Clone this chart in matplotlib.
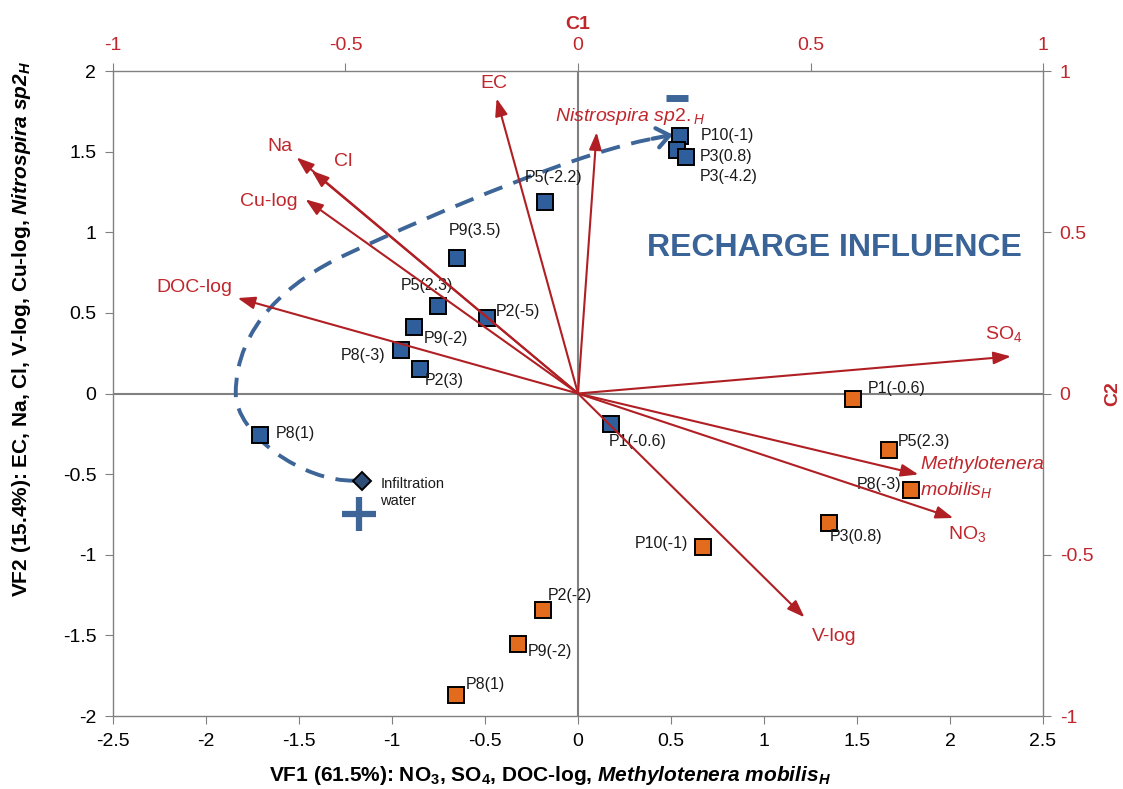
import numpy as np
import matplotlib
matplotlib.use("Agg")
import matplotlib.pyplot as plt
from matplotlib.path import Path
from matplotlib.patches import PathPatch

plt.rcParams["font.family"] = ["Liberation Sans", "DejaVu Sans"]
plt.rcParams["mathtext.fontset"] = "custom"
plt.rcParams["mathtext.rm"] = "Liberation Sans"
plt.rcParams["mathtext.it"] = "Liberation Sans:italic"
plt.rcParams["mathtext.bf"] = "Liberation Sans:bold"
plt.rcParams["mathtext.bfit"] = "Liberation Sans:italic:bold"

# sample scores (VF1, VF2)
blue_names = ["P5(-2.2)", "P9(3.5)", "P10(-1)", "P3(0.8)", "P3(-4.2)", "P5(2.3)",
              "P2(-5)", "P9(-2)", "P8(-3)", "P2(3)", "P8(1)", "P1(-0.6)"]
blue_vf1 = [-0.18, -0.65, 0.55, 0.53, 0.58, -0.75, -0.49, -0.88, -0.95, -0.85, -1.71, 0.18]
blue_vf2 = [1.19, 0.84, 1.60, 1.51, 1.465, 0.54, 0.47, 0.41, 0.27, 0.155, -0.26, -0.19]

orange_names = ["P1(-0.6)", "P5(2.3)", "P8(-3)", "P3(0.8)", "P10(-1)", "P2(-2)", "P9(-2)", "P8(1)"]
orange_vf1 = [1.48, 1.67, 1.79, 1.35, 0.67, -0.19, -0.32, -0.655]
orange_vf2 = [-0.035, -0.35, -0.60, -0.80, -0.95, -1.345, -1.555, -1.87]

infil_vf1, infil_vf2 = -1.16, -0.54

# variable loadings (C1, C2)
var_names = ["EC", "Na", "Cl", "Cu-log", "DOC-log", "$\\mathit{Nistrospira\\ sp2.}_{\\mathit{H}}$",
             "SO$_4$", "NO$_3$", "$\\mathit{Methylotenera}$\n$\\mathit{mobilis}_{\\mathit{H}}$", "V-log"]
var_c1 = [-0.175, -0.605, -0.573, -0.586, -0.732, 0.040, 0.931, 0.807, 0.732, 0.487]
var_c2 = [0.915, 0.732, 0.691, 0.602, 0.296, 0.810, 0.115, -0.386, -0.251, -0.694]

# label placement (VF coords) for the variable names
var_label_pos = [(-0.45, 1.92, "center"), (-1.60, 1.53, "center"), (-1.26, 1.44, "center"),
                 (-1.66, 1.19, "center"), (-2.06, 0.66, "center"), (0.28, 1.72, "center"),
                 (2.29, 0.37, "center"), (2.09, -0.87, "center"), (1.84, -0.52, "left"),
                 (1.38, -1.505, "center")]

# label offsets in pixels for the sample points
blue_offsets = [(9, 24, "center"), (18, 28, "center"), (20, 0, "left"), (23, -6, "left"),
                (14, -19, "left"), (-12, 21, "center"), (9, 6, "left"), (9, -11, "left"),
                (-16, -6, "right"), (5, -12, "left"), (16, 2, "left"), (-3, -17, "left")]
orange_offsets = [(14, 11, "left"), (9, 8, "left"), (-10, 6, "right"), (1, -14, "left"),
                  (-15, 3, "right"), (5, 15, "left"), (9, -7, "left"), (10, 11, "left")]

BLUE = "#2F5E9C"
ORANGE = "#E36B1E"
DKRED = "#B01F24"
RED = "#C0272D"
CURVE = "#3D6597"
GREY = "#808080"

fig = plt.figure(figsize=(11.23, 7.89), dpi=100)
pos = [0.1006, 0.0925, 0.8282, 0.8175]
ax = fig.add_axes(pos)
ax.set_xlim(-2.5, 2.5)
ax.set_ylim(-2, 2)
ax.set_xticks(np.arange(-2.5, 2.51, 0.5))
ax.set_yticks(np.arange(-2, 2.01, 0.5))
ax.set_xticklabels(["-2.5", "-2", "-1.5", "-1", "-0.5", "0", "0.5", "1", "1.5", "2", "2.5"])
ax.set_yticklabels(["-2", "-1.5", "-1", "-0.5", "0", "0.5", "1", "1.5", "2"])
for s in ax.spines.values():
    s.set_color(GREY)
    s.set_linewidth(1)
ax.tick_params(direction="out", length=6, color=GREY, labelsize=14, pad=6)
ax.axhline(0, color=GREY, lw=1.5, zorder=1)
ax.axvline(0, color=GREY, lw=1.5, zorder=1)

ax.set_xlabel("VF1 (61.5%): NO$_\\mathbf{3}$, SO$_\\mathbf{4}$, DOC-log, "
              "$\\mathbfit{Methylotenera\\ mobilis}_{\\mathbfit{H}}$",
              fontsize=15, fontweight="bold", va="center")
ax.xaxis.set_label_coords(0.47, -0.092)
ax.set_ylabel("VF2 (15.4%): EC, Na, Cl, V-log, Cu-log, "
              "$\\mathbfit{Nitrospira\\ sp2}_{\\mathbfit{H}}$",
              fontsize=15, fontweight="bold", va="center")
ax.yaxis.set_label_coords(-0.098, 0.60)

# loading axes (C1 top, C2 right)
ax2 = fig.add_axes(pos, frameon=False)
ax2.set_xlim(-1, 1)
ax2.set_ylim(-1, 1)
ax2.xaxis.tick_top()
ax2.yaxis.tick_right()
ax2.set_xticks([-1, -0.5, 0, 0.5, 1])
ax2.set_yticks([-1, -0.5, 0, 0.5, 1])
ax2.set_xticklabels(["-1", "-0.5", "0", "0.5", "1"])
ax2.set_yticklabels(["-1", "-0.5", "0", "0.5", "1"])
ax2.tick_params(direction="out", length=6, color=GREY, labelsize=14, labelcolor=RED, pad=6)
ax2.xaxis.set_label_position("top")
ax2.yaxis.set_label_position("right")
ax2.set_xlabel("C1", color=RED, fontsize=14, fontweight="bold", labelpad=6)
ax2.set_ylabel("C2", color=RED, fontsize=14, fontweight="bold", labelpad=8)

# loading arrows
for c1, c2 in zip(var_c1, var_c2):
    ax2.annotate("", xy=(c1, c2), xytext=(0, 0),
                 arrowprops=dict(arrowstyle="-|>,head_length=0.75,head_width=0.27",
                                 color=DKRED, lw=1.5, shrinkA=0, shrinkB=0,
                                 mutation_scale=14), zorder=3)
for name, (x, y, ha) in zip(var_names, var_label_pos):
    ax.text(x, y, name, color=RED, fontsize=14, ha=ha, va="center", zorder=4,
            linespacing=1.35)

# recharge path
verts = [(-1.20, -0.54), (-1.48, -0.55), (-1.84, -0.25), (-1.84, 0.0),
         (-1.84, 0.42), (-1.55, 0.70), (-1.25, 0.86),
         (-0.75, 1.13), (0.05, 1.52), (0.45, 1.59)]
codes = [Path.MOVETO] + [Path.CURVE4] * 9
ax.add_patch(PathPatch(Path(verts, codes), fill=False, edgecolor=CURVE, lw=2.8,
                       linestyle=(0, (5, 3)), zorder=2))
ax.annotate("", xy=(0.51, 1.605), xytext=(0.40, 1.58),
            arrowprops=dict(arrowstyle="->,head_length=0.45,head_width=0.35",
                            color=CURVE, lw=3, shrinkA=0, shrinkB=0,
                            mutation_scale=20), zorder=2)
ax.plot([-1.18], [-0.75], marker="+", ms=24, mew=4.5, color=CURVE, zorder=3)
ax.plot([0.53], [1.83], marker="_", ms=16, mew=5, color=CURVE, zorder=3)

# samples
ax.plot(blue_vf1, blue_vf2, ls="none", marker="s", ms=11, mfc=BLUE, mec="black", mew=1.4, zorder=5)
ax.plot(orange_vf1, orange_vf2, ls="none", marker="s", ms=11, mfc=ORANGE, mec="black", mew=1.4, zorder=5)
ax.plot([infil_vf1], [infil_vf2], ls="none", marker="D", ms=9, mfc="#2E4E78", mec="black", mew=1.4, zorder=5)

for name, x, y, (dx, dy, ha) in zip(blue_names, blue_vf1, blue_vf2, blue_offsets):
    ax.annotate(name, (x, y), xytext=(dx, dy), textcoords="offset pixels",
                ha=ha, va="center", fontsize=11.5, color="#1a1a1a", zorder=6)
for name, x, y, (dx, dy, ha) in zip(orange_names, orange_vf1, orange_vf2, orange_offsets):
    ax.annotate(name, (x, y), xytext=(dx, dy), textcoords="offset pixels",
                ha=ha, va="center", fontsize=11.5, color="#1a1a1a", zorder=6)
ax.annotate("Infiltration\nwater", (infil_vf1, infil_vf2), xytext=(18, -12),
            textcoords="offset pixels", ha="left", va="center", fontsize=10.5,
            color="#1a1a1a", linespacing=1.3)

ax.text(1.38, 0.905, "RECHARGE INFLUENCE", color="#3A6397", fontsize=23,
        fontweight="bold", ha="center", va="center")

fig.savefig("out.png", dpi=100)
